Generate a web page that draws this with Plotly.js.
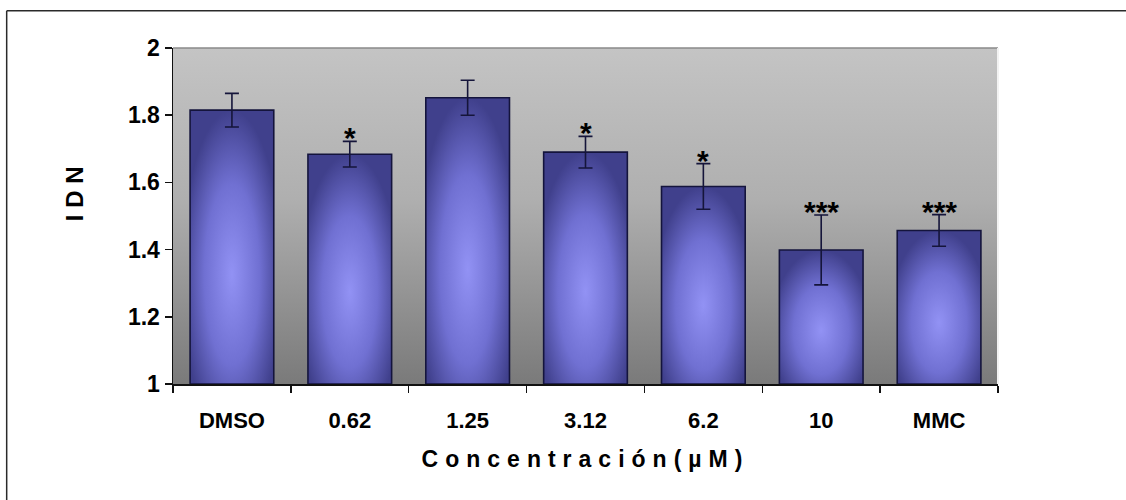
<!DOCTYPE html>
<html>
<head>
<meta charset="utf-8">
<script src="https://cdn.plot.ly/plotly-3.0.1.min.js"></script>
<style>
  html, body { margin: 0; padding: 0; background: #ffffff; overflow: hidden; }
  #chart { width: 1126px; height: 500px; }
  .xtitle { letter-spacing: 7px; }
</style>
</head>
<body>
<div id="chart"></div>
<script>
// ---- data ----
const categories = ['DMSO', '0.62', '1.25', '3.12', '6.2', '10', 'MMC'];
const idnValues  = [1.815, 1.684, 1.852, 1.690, 1.588, 1.399, 1.457];
const idnErrors  = [0.050, 0.038, 0.052, 0.047, 0.068, 0.104, 0.047];
const significance = ['', '*', '', '*', '*', '***', '***'];
const yTickValues = [1, 1.2, 1.4, 1.6, 1.8, 2];
const xTitle = 'Concentración(µM)';
const yTitle = 'I D N';

// ---- styling ----
const FONT = 'Liberation Sans, Arial, Helvetica, sans-serif';
const barWidth = 0.71;
const yBase = 1;
const positions = categories.map((c, i) => i);

function svgUri(svg) { return 'data:image/svg+xml;charset=utf-8,' + encodeURIComponent(svg); }

const bgSvg = "<svg xmlns='http://www.w3.org/2000/svg' width='100' height='100' viewBox='0 0 100 100' preserveAspectRatio='none'>" +
  "<defs><linearGradient id='b' x1='0' y1='0' x2='0' y2='1'>" +
  "<stop offset='0' stop-color='#c4c4c4'/><stop offset='0.45' stop-color='#afafaf'/><stop offset='1' stop-color='#7a7a7a'/>" +
  "</linearGradient></defs><rect width='100' height='100' fill='url(#b)'/></svg>";

const barSvg = "<svg xmlns='http://www.w3.org/2000/svg' width='100' height='100' viewBox='0 0 100 100' preserveAspectRatio='none'>" +
  "<defs><radialGradient id='g' cx='50%' cy='60%' r='60%'>" +
  "<stop offset='0' stop-color='#9292f4'/><stop offset='0.55' stop-color='#7070d2'/><stop offset='1' stop-color='#40408c'/>" +
  "</radialGradient></defs><rect width='100' height='100' fill='url(#g)'/></svg>";

const images = [{
  source: svgUri(bgSvg), xref: 'paper', yref: 'paper', x: 0, y: 1, sizex: 1, sizey: 1,
  xanchor: 'left', yanchor: 'top', sizing: 'stretch', layer: 'below'
}];
positions.forEach((p, i) => {
  images.push({
    source: svgUri(barSvg), xref: 'x', yref: 'y',
    x: p - barWidth / 2, y: idnValues[i], sizex: barWidth, sizey: idnValues[i] - yBase,
    xanchor: 'left', yanchor: 'top', sizing: 'stretch', layer: 'below'
  });
});

const barTrace = {
  type: 'bar',
  x: positions,
  y: idnValues.map(v => v - yBase),
  base: yBase,
  width: barWidth,
  marker: { color: 'rgba(0,0,0,0)', line: { color: '#14143c', width: 1.6 } },
  error_y: { type: 'data', array: idnErrors, visible: true, color: '#15153a', thickness: 1.6, width: 7 },
  hoverinfo: 'x+y',
  showlegend: false
};

const annotations = [];
positions.forEach((p, i) => {
  if (significance[i]) {
    annotations.push({
      x: p, y: idnValues[i] + idnErrors[i], xref: 'x', yref: 'y',
      text: significance[i], showarrow: false, yanchor: 'bottom', yshift: -15,
      font: { family: FONT, size: 30, color: '#000000', weight: 'bold' }
    });
  }
});
annotations.push({
  x: -0.12, y: 0.565, xref: 'paper', yref: 'paper', text: yTitle, showarrow: false,
  textangle: -90, xanchor: 'center', yanchor: 'middle',
  font: { family: FONT, size: 24, color: '#000000', weight: 'bold' }
});

const labelAlias = {};
categories.forEach((c, i) => { labelAlias[String(i)] = c; });

const layout = {
  width: 1126, height: 500,
  margin: { l: 173, r: 128, t: 48, b: 116 },
  paper_bgcolor: '#ffffff',
  plot_bgcolor: '#a9a9a9',
  showlegend: false,
  xaxis: {
    range: [-0.5, 6.5], tickmode: 'linear', tick0: 0, dtick: 1, labelalias: labelAlias,
    ticks: '', showgrid: false, zeroline: false, showline: true, linecolor: '#111111', linewidth: 1.5,
    ticklabelstandoff: 16,
    tickfont: { family: FONT, size: 22, color: '#000000', weight: 'bold' },
    minor: { tickmode: 'linear', tick0: -0.5, dtick: 1, ticks: 'outside', ticklen: 7, tickcolor: '#111111', tickwidth: 1.5, showgrid: false },
    title: { text: xTitle, standoff: 19, font: { family: FONT, size: 23, color: '#000000', weight: 'bold' } },
    fixedrange: true
  },
  yaxis: {
    range: [1, 2], tickmode: 'array', tickvals: yTickValues,
    ticks: 'outside', ticklen: 7, tickwidth: 1.5, tickcolor: '#111111',
    showgrid: false, zeroline: false, showline: true, linecolor: '#111111', linewidth: 1.5,
    tickfont: { family: FONT, size: 23, color: '#000000', weight: 'bold' },
    fixedrange: true
  },
  images: images,
  annotations: annotations,
  shapes: [
    // keep the strip beyond the chart's right side blank
    { type: 'rect', xref: 'paper', yref: 'paper', x0: 1.1333, x1: 1.3, y0: -0.5, y1: 1.2,
      fillcolor: '#ffffff', line: { width: 0 }, layer: 'above' },
    // outer chart frame: left and top edges only (right/bottom run off the picture)
    { type: 'line', xref: 'paper', yref: 'paper', x0: -0.2016, x1: -0.2016, y0: -0.5, y1: 1.111,
      line: { color: '#2a2a2a', width: 1.5 }, layer: 'above' },
    { type: 'line', xref: 'paper', yref: 'paper', x0: -0.2016, x1: 1.3, y0: 1.111, y1: 1.111,
      line: { color: '#2a2a2a', width: 1.5 }, layer: 'above' },
    // plot-area top and right edges
    { type: 'line', xref: 'paper', yref: 'paper', x0: 0, x1: 1, y0: 1, y1: 1, line: { color: '#8a8a8a', width: 1.5 } },
    { type: 'line', xref: 'paper', yref: 'paper', x0: 1, x1: 1, y0: 0, y1: 1, line: { color: '#f2f2f2', width: 2 } }
  ]
};

Plotly.newPlot('chart', [barTrace], layout, { staticPlot: true, displayModeBar: false });
</script>
</body>
</html>
